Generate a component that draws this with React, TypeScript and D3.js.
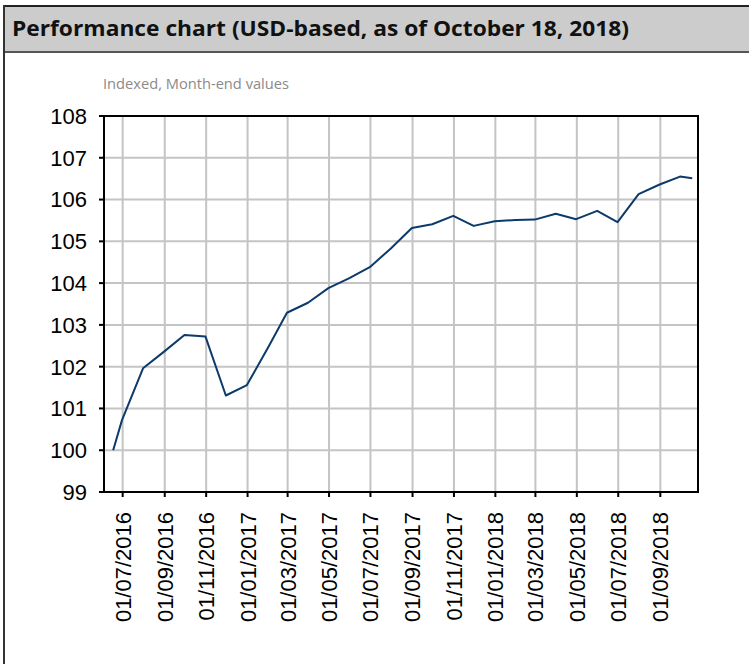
import React from "react";
import * as d3 from "d3";

const dates: string[] = [
  "2016-06-17", "2016-06-30", "2016-07-31", "2016-08-31", "2016-09-30", "2016-10-31",
  "2016-11-30", "2016-12-31", "2017-01-31", "2017-02-28", "2017-03-31", "2017-04-30",
  "2017-05-31", "2017-06-30", "2017-07-31", "2017-08-31", "2017-09-30", "2017-10-31",
  "2017-11-30", "2017-12-31", "2018-01-31", "2018-02-28", "2018-03-31", "2018-04-30",
  "2018-05-31", "2018-06-30", "2018-07-31", "2018-08-31", "2018-09-30", "2018-10-18",
];
const values: number[] = [
  100, 100.72, 101.96, 102.36, 102.76, 102.72, 101.31, 101.56, 102.45, 103.29, 103.53, 103.88,
  104.12, 104.38, 104.83, 105.32, 105.41, 105.61, 105.37, 105.48, 105.51, 105.52, 105.66, 105.53,
  105.73, 105.46, 106.13, 106.36, 106.55, 106.51,
];
const xTickDates: string[] = [
  "2016-07-01", "2016-09-01", "2016-11-01", "2017-01-01", "2017-03-01", "2017-05-01", "2017-07-01",
  "2017-09-01", "2017-11-01", "2018-01-01", "2018-03-01", "2018-05-01", "2018-07-01", "2018-09-01",
];
const yTicks: number[] = [99, 100, 101, 102, 103, 104, 105, 106, 107, 108];
const xDomain: string[] = ["2016-06-03T12:00:00Z", "2018-10-26T12:00:00Z"];
const title = "Performance chart (USD-based, as of October 18, 2018)";
const subtitle = "Indexed, Month-end values";

const W = 749;
const H = 664;
const left = 104;
const right = 698;
const top = 116;
const bottom = 492;

export default function App() {
  const parse = (s: string) => new Date(s.length > 10 ? s : s + "T00:00:00Z");
  const x = d3.scaleUtc().domain(xDomain.map(parse)).range([left, right]);
  const y = d3.scaleLinear().domain([99, 108]).range([bottom, top]);
  const fmt = d3.utcFormat("%d/%m/%Y");
  const pts = dates.map((d, i) => ({ d: parse(d), v: values[i] }));
  const line = d3
    .line<{ d: Date; v: number }>()
    .x((p) => x(p.d))
    .y((p) => y(p.v));
  const ticks = xTickDates.map(parse);

  return (
    <div style={{ position: "absolute", left: 0, top: 0, width: W, height: H }}>
      <svg width={W} height={H} style={{ display: "block", background: "#fff" }}>
        {/* title bar */}
        <rect x={4} y={6} width={W - 4} height={46} fill="#cccccc" />
        <line x1={4} x2={W} y1={6} y2={6} stroke="#222" strokeWidth={2} />
        <line x1={4} x2={W} y1={52} y2={52} stroke="#555" strokeWidth={2} />
        <line x1={4} x2={4} y1={5} y2={H} stroke="#333" strokeWidth={2} />
        <text
          x={12}
          y={36}
          fontFamily="'Open Sans', sans-serif"
          fontWeight="bold"
          fontSize={22}
          textLength={617}
          lengthAdjust="spacingAndGlyphs"
          fill="#111"
        >
          {title}
        </text>
        <text
          x={103}
          y={89}
          fontFamily="'Open Sans', sans-serif"
          fontSize={14}
          textLength={186}
          lengthAdjust="spacingAndGlyphs"
          fill="#8a8a8a"
        >
          {subtitle}
        </text>

        {/* grid */}
        {yTicks.map((t) => (
          <line key={"gy" + t} x1={left} x2={right} y1={y(t)} y2={y(t)} stroke="#c4c4c4" strokeWidth={2} />
        ))}
        {ticks.map((t, i) => (
          <line key={"gx" + i} x1={x(t)} x2={x(t)} y1={top} y2={bottom} stroke="#c4c4c4" strokeWidth={2} />
        ))}

        {/* data line */}
        <path d={line(pts) || ""} fill="none" stroke="#0b3a6b" strokeWidth={2} strokeLinejoin="round" />

        {/* frame */}
        <rect x={left} y={top} width={right - left} height={bottom - top} fill="none" stroke="#000" strokeWidth={2} />

        {/* y ticks */}
        {yTicks.map((t) => (
          <g key={"ty" + t}>
            <line x1={left - 5} x2={left} y1={y(t)} y2={y(t)} stroke="#000" strokeWidth={2} />
            <text
              x={87}
              y={y(t)}
              dy="0.36em"
              textAnchor="end"
              fontFamily="'Liberation Sans', Arial, sans-serif"
              fontSize={22}
              fill="#000"
            >
              {t}
            </text>
          </g>
        ))}

        {/* x ticks */}
        {ticks.map((t, i) => (
          <g key={"tx" + i}>
            <line x1={x(t)} x2={x(t)} y1={bottom} y2={bottom + 5} stroke="#000" strokeWidth={2} />
            <text
              transform={`translate(${x(t)},${bottom + 20}) rotate(-90)`}
              dy="0.36em"
              textAnchor="end"
              fontFamily="'Liberation Sans', Arial, sans-serif"
              fontSize={22}
              fill="#000"
            >
              {fmt(t)}
            </text>
          </g>
        ))}
      </svg>
    </div>
  );
}
